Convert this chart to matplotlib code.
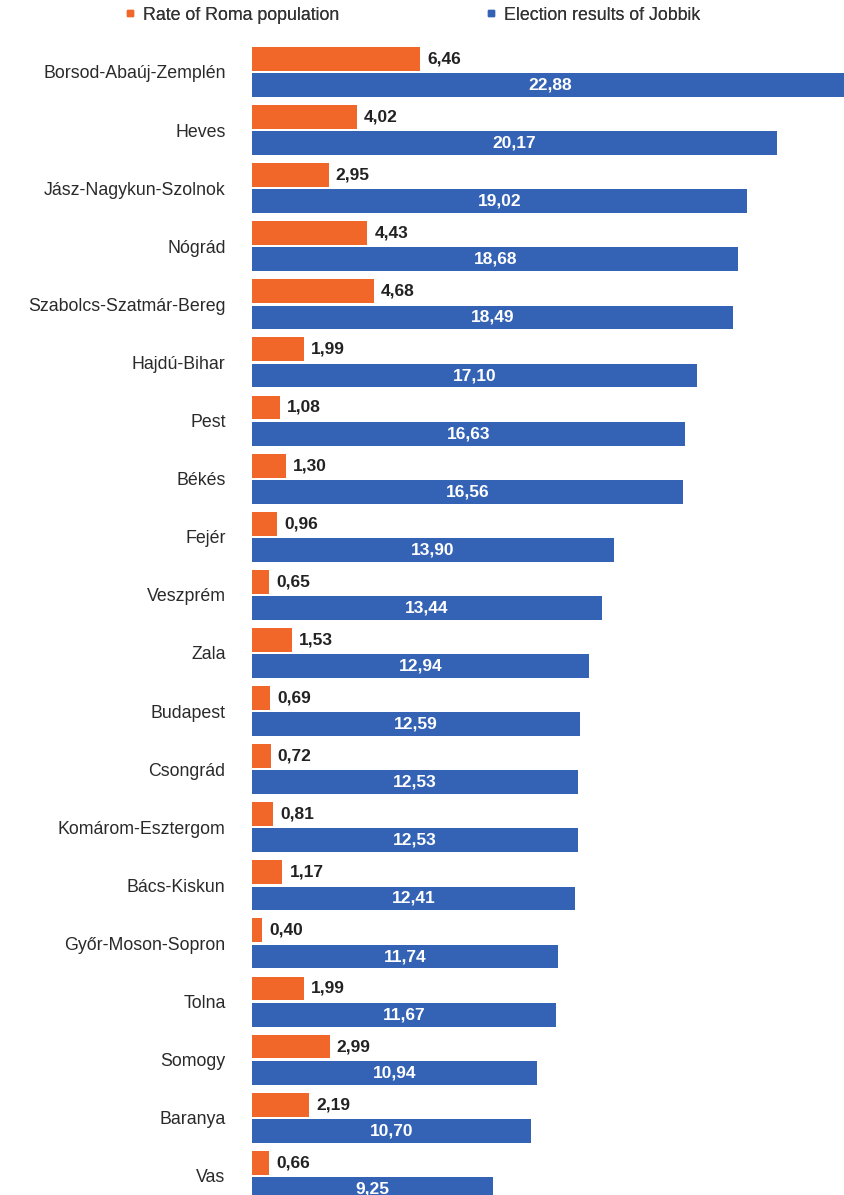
import matplotlib
matplotlib.use("Agg")
import matplotlib.pyplot as plt
from matplotlib.lines import Line2D
import numpy as np

plt.rcParams['font.family'] = ['Liberation Sans', 'DejaVu Sans']

counties = ["Borsod-Abaúj-Zemplén", "Heves", "Jász-Nagykun-Szolnok", "Nógrád",
            "Szabolcs-Szatmár-Bereg", "Hajdú-Bihar", "Pest", "Békés", "Fejér",
            "Veszprém", "Zala", "Budapest", "Csongrád", "Komárom-Esztergom",
            "Bács-Kiskun", "Győr-Moson-Sopron", "Tolna", "Somogy", "Baranya", "Vas"]
roma = [6.46, 4.02, 2.95, 4.43, 4.68, 1.99, 1.08, 1.30, 0.96, 0.65, 1.53, 0.69,
        0.72, 0.81, 1.17, 0.40, 1.99, 2.99, 2.19, 0.66]
jobbik = [22.88, 20.17, 19.02, 18.68, 18.49, 17.10, 16.63, 16.56, 13.90, 13.44,
          12.94, 12.59, 12.53, 12.53, 12.41, 11.74, 11.67, 10.94, 10.70, 9.25]
series_names = ["Rate of Roma population", "Election results of Jobbik"]

orange = '#F1672A'
blue = '#3462B4'

W, H = 845, 1195
fig = plt.figure(figsize=(W/100, H/100), dpi=100)
ax = fig.add_axes([252/W, 0, 1 - 252/W, 1])

y = np.arange(len(counties))
h = 0.41
off = 0.225
ax.barh(y - off, roma, height=h, color=orange)
ax.barh(y + off, jobbik, height=h, color=blue)

for yi, v in zip(y, roma):
    ax.text(v + 0.27, yi - off, f"{v:.2f}".replace('.', ','), va='center', ha='left',
            fontsize=12.5, fontweight='bold', color='#222222')
for yi, v in zip(y, jobbik):
    ax.text(v / 2, yi + off, f"{v:.2f}".replace('.', ','), va='center', ha='center',
            fontsize=12.5, fontweight='bold', color='white')

ax.set_xlim(0, 22.78)
ax.set_ylim(19.33, -1.239)
ax.set_yticks(y)
ax.set_yticklabels(counties, fontsize=12.8, color='#2a2a2a')
ax.tick_params(axis='y', length=0, pad=19)
ax.set_xticks([])
for s in ax.spines.values():
    s.set_visible(False)

for name, col, x0 in [(series_names[0], orange, 125), (series_names[1], blue, 486)]:
    handle = Line2D([], [], marker='s', markersize=4.5, linestyle='none', color=col)
    leg = fig.legend(handles=[handle], labels=[name], loc='center left',
                     bbox_to_anchor=(x0 / W, 1 - 15 / H), frameon=False,
                     fontsize=12.8, handlelength=0.6, handletextpad=0.4,
                     borderpad=0, borderaxespad=0)
    for t in leg.get_texts():
        t.set_color('#333333')
    fig.add_artist(leg)

fig.savefig("out.png", dpi=100)
